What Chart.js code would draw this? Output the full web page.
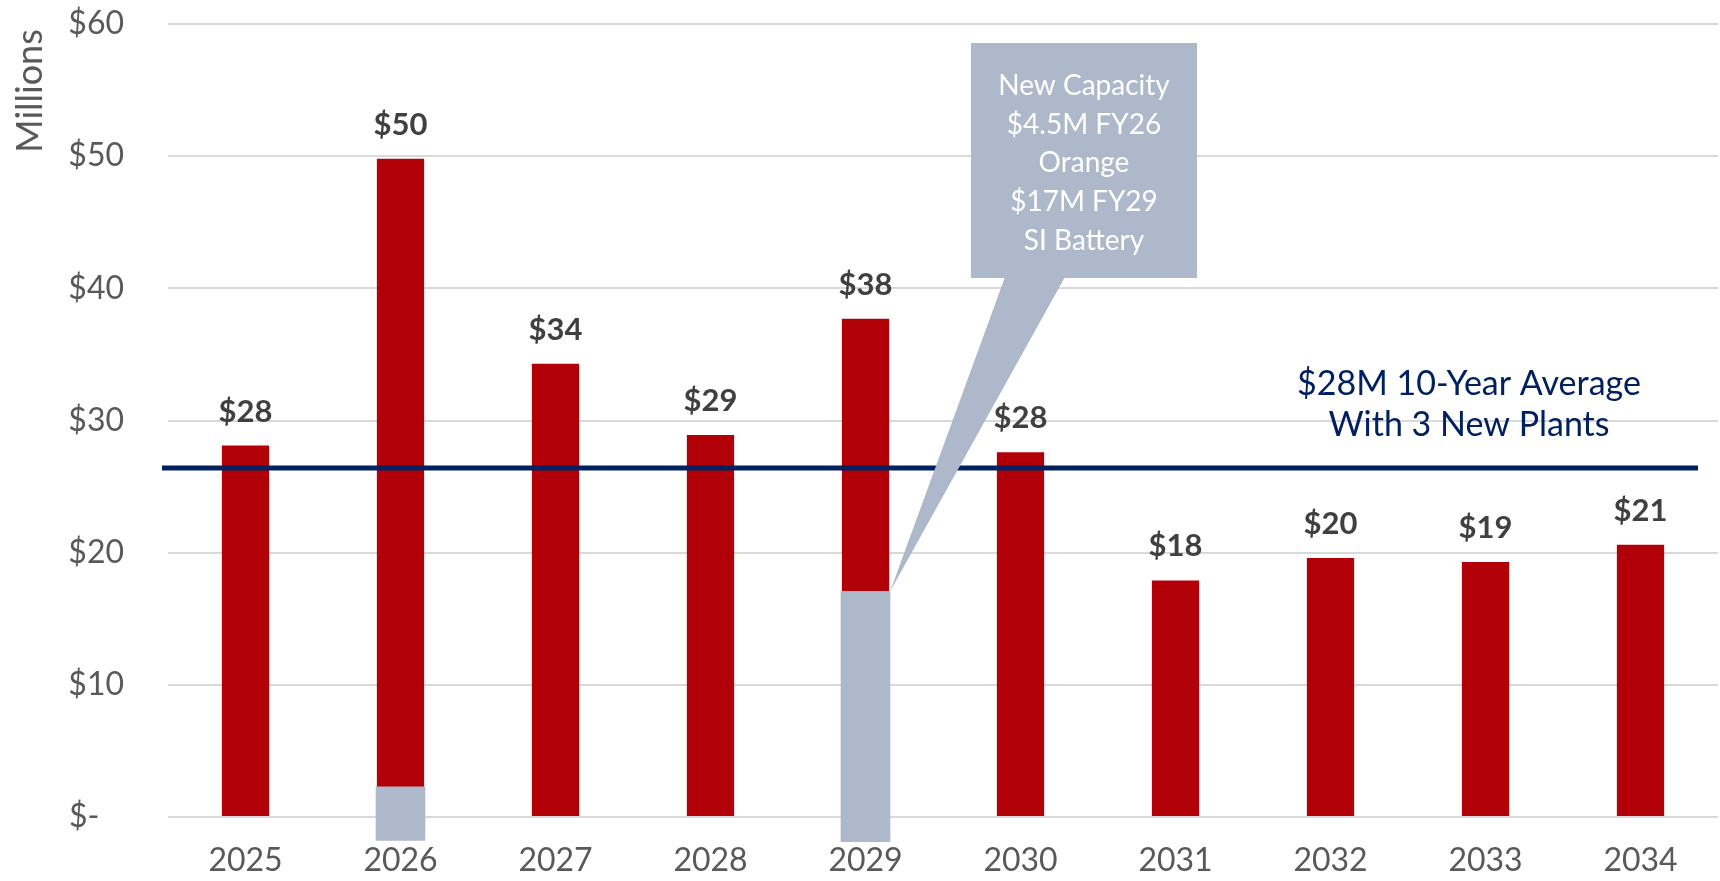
<html>
<head>
    <script type="text/javascript" src="https://cdn.jsdelivr.net/npm/chart.js@4.4.0/dist/chart.umd.min.js"></script>
    <style>
        body { margin: 0; background: #fff; }
        #wrap { width: 1720px; height: 881px; position: relative; }
    </style>
</head>
<body>
    <div id="wrap"><canvas id="capexGraph"></canvas></div>

<script type="text/javascript">
    // dados
    const years = ['2025', '2026', '2027', '2028', '2029', '2030', '2031', '2032', '2033', '2034'];
    const spend = [28.1, 49.8, 34.3, 28.9, 37.7, 27.6, 17.9, 19.6, 19.3, 20.6];
    const newCapacity = [null, [-1.8, 2.3], null, null, [-1.9, 17.1], null, null, null, null, null];
    const yTicks = [0, 10, 20, 30, 40, 50, 60];
    const averageValue = 26.4;
    const averageText = ['$28M 10-Year Average', 'With 3 New Plants'];
    const calloutText = ['New Capacity', '$4.5M FY26', 'Orange', '$17M FY29', 'SI Battery'];

    const FONT = 'Lato';
    const RED = '#B20009';
    const GRAY = '#ADB9CA';
    const NAVY = '#002060';

    const extras = {
        id: 'extras',
        afterDatasetsDraw(chart) {
            const ctx = chart.ctx;
            const y = chart.scales.y;
            const area = chart.chartArea;

            // linha da média
            const ay = y.getPixelForValue(averageValue);
            ctx.save();
            ctx.strokeStyle = NAVY;
            ctx.lineWidth = 5;
            ctx.beginPath();
            ctx.moveTo(area.left - 6, ay);
            ctx.lineTo(area.right - 20, ay);
            ctx.stroke();

            // balão
            const bar = chart.getDatasetMeta(0).data[4];
            const tipX = bar.x + bar.width / 2;
            const tipY = Math.min(bar.y, bar.base);
            const box = { left: 971, top: 43, right: 1197, bottom: 278 };
            ctx.fillStyle = GRAY;
            ctx.fillRect(box.left, box.top, box.right - box.left, box.bottom - box.top);
            ctx.beginPath();
            ctx.moveTo(1005, box.bottom - 1);
            ctx.lineTo(1065, box.bottom - 1);
            ctx.lineTo(tipX, tipY);
            ctx.closePath();
            ctx.fill();

            ctx.fillStyle = '#FFFFFF';
            ctx.font = '28px ' + FONT;
            ctx.textAlign = 'center';
            ctx.textBaseline = 'middle';
            calloutText.forEach(function (t, i) {
                ctx.fillText(t, (box.left + box.right) / 2, 86 + i * 38.7);
            });

            // rótulos das barras
            ctx.fillStyle = '#404040';
            ctx.font = 'bold 31px ' + FONT;
            chart.getDatasetMeta(1).data.forEach(function (el, i) {
                ctx.fillText('$' + Math.round(spend[i]), el.x, el.y - 34);
            });

            // texto da média
            ctx.fillStyle = NAVY;
            ctx.font = '34px ' + FONT;
            ctx.fillText(averageText[0], 1469, 384);
            ctx.fillText(averageText[1], 1469, 425);

            // Millions
            ctx.translate(30, 91);
            ctx.rotate(-Math.PI / 2);
            ctx.fillStyle = '#595959';
            ctx.font = '36px ' + FONT;
            ctx.fillText('Millions', 0, 0);
            ctx.restore();
        }
    };

    const ctx = document.getElementById('capexGraph').getContext('2d');
    const capexGraph = new Chart(ctx, {
        type: 'bar',
        data: {
            labels: years,
            datasets: [{
                label: 'Nova capacidade',
                data: newCapacity,
                backgroundColor: GRAY,
                grouped: false,
                clip: false,
                order: 0,
                barPercentage: 1,
                categoryPercentage: 0.32
            }, {
                label: 'Total',
                data: spend,
                backgroundColor: RED,
                grouped: false,
                order: 1,
                barPercentage: 1,
                categoryPercentage: 0.305
            }]
        },
        options: {
            responsive: true,
            maintainAspectRatio: false,
            animation: false,
            devicePixelRatio: 1,
            layout: { padding: { top: 24, right: 2, left: 0, bottom: 0 } },
            plugins: {
                legend: { display: false },
                tooltip: { enabled: false }
            },
            scales: {
                x: {
                    grid: { display: false, drawTicks: false },
                    border: { display: false },
                    ticks: {
                        color: '#595959',
                        font: { family: FONT, size: 32 },
                        padding: 24
                    },
                    afterFit: function (scale) { scale.height = 64; }
                },
                y: {
                    min: 0,
                    max: 60,
                    grid: { color: '#D9D9D9', lineWidth: 2, drawTicks: false },
                    border: { display: false },
                    afterBuildTicks: function (scale) {
                        scale.ticks = yTicks.map(function (v) { return { value: v }; });
                    },
                    ticks: {
                        color: '#595959',
                        font: { family: FONT, size: 32 },
                        padding: 44,
                        callback: function (v) { return v === 0 ? '$-   ' : '$' + v; }
                    },
                    afterFit: function (scale) {
                        scale.width = 168;
                        scale.paddingTop = 0;
                        scale.paddingBottom = 0;
                    }
                }
            }
        },
        plugins: [extras]
    });
</script>
</body>
</html>
